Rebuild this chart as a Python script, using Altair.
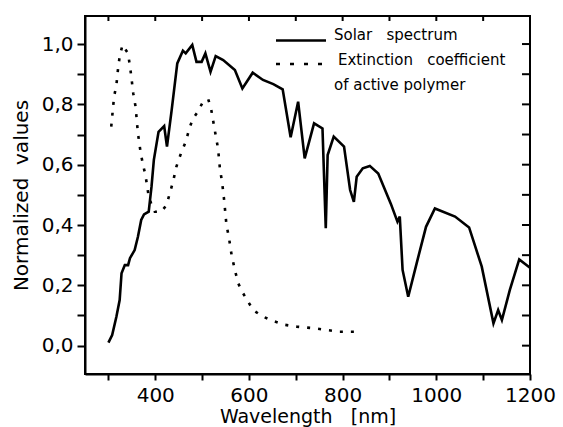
import altair as alt
import pandas as pd

# ---- data ----
solar_nm = [300, 308, 317, 324, 328, 335, 342, 346, 356, 363, 370, 376, 386, 392, 397,
            407, 419, 425, 435, 447, 459, 465, 479, 488, 499, 507, 518, 529, 545, 570,
            586, 608, 630, 652, 672, 689, 705, 719, 739, 757, 764, 768, 781, 803, 816,
            824, 830, 843, 858, 876, 903, 917, 922, 928, 940, 958, 978, 997, 1040, 1070,
            1097, 1122, 1132, 1140, 1157, 1177, 1200]
solar_val = [0.010, 0.035, 0.096, 0.151, 0.240, 0.267, 0.267, 0.290, 0.317, 0.361, 0.417,
             0.435, 0.444, 0.527, 0.616, 0.709, 0.728, 0.660, 0.781, 0.936, 0.978, 0.969,
             0.997, 0.941, 0.941, 0.969, 0.908, 0.960, 0.947, 0.914, 0.853, 0.905, 0.881,
             0.867, 0.850, 0.691, 0.809, 0.621, 0.737, 0.720, 0.389, 0.632, 0.693, 0.660,
             0.516, 0.477, 0.560, 0.588, 0.596, 0.571, 0.470, 0.411, 0.428, 0.251, 0.162,
             0.273, 0.394, 0.455, 0.428, 0.392, 0.262, 0.074, 0.118, 0.085, 0.185, 0.286,
             0.258]

ext_nm = [306, 312, 317, 321, 324, 330, 342, 348, 353, 358, 363, 369, 374, 379, 385,
          392, 399, 413, 424, 431, 438, 445, 455, 465, 474, 481, 491, 502, 513, 519,
          527, 534, 538, 543, 547, 552, 557, 563, 570, 577, 587, 595, 609, 630, 655,
          677, 702, 737, 766, 794, 826]
ext_val = [0.726, 0.825, 0.864, 0.925, 0.958, 0.997, 0.969, 0.903, 0.837, 0.792, 0.704,
           0.638, 0.599, 0.566, 0.505, 0.466, 0.444, 0.444, 0.466, 0.505, 0.544, 0.593,
           0.638, 0.676, 0.726, 0.754, 0.776, 0.809, 0.817, 0.787, 0.715, 0.654, 0.588,
           0.538, 0.483, 0.400, 0.361, 0.300, 0.251, 0.207, 0.175, 0.154, 0.118, 0.096,
           0.080, 0.069, 0.063, 0.058, 0.052, 0.046, 0.046]

x_ticks = [300, 400, 500, 600, 700, 800, 900, 1000, 1100, 1200]
y_ticks = [0.0, 0.1, 0.2, 0.3, 0.4, 0.5, 0.6, 0.7, 0.8, 0.9, 1.0]

legend_labels = ["Solar\u00a0\u00a0\u00a0spectrum",
                 "Extinction\u00a0\u00a0\u00a0coefficient",
                 "of\u00a0active\u00a0polymer"]
x_title = "Wavelength\u00a0\u00a0\u00a0[nm]"
y_title = "Normalized\u00a0\u00a0values"

# ---- layout ----
W, H = 445, 358
FONT = "DejaVu Sans"
DASH = [3, 8]

xscale = alt.Scale(domain=[250, 1200], nice=False, zero=False)
yscale = alt.Scale(domain=[-0.094, 1.093], nice=False, zero=False)

x_axis = alt.Axis(values=x_ticks, grid=False,
                  labelExpr="datum.value % 200 == 0 ? datum.value : ''",
                  labelFont=FONT, labelFontSize=20, labelColor="black",
                  labelPadding=5, labelOverlap=False, labelFlush=False,
                  tickSize=6, tickWidth=2, tickColor="black",
                  domainWidth=2, domainColor="black",
                  title=x_title, titleFont=FONT, titleFontSize=19,
                  titleFontWeight="normal", titleColor="black", titlePadding=2)
y_axis = alt.Axis(values=y_ticks, grid=False,
                  labelExpr="round(datum.value*10) % 2 == 0 ? replace(format(datum.value, '.1f'), '.', ',') : ''",
                  labelFont=FONT, labelFontSize=20, labelColor="black",
                  labelPadding=4, labelOverlap=False, labelFlush=False,
                  tickSize=8, tickWidth=2, tickColor="black",
                  domainWidth=2, domainColor="black",
                  title=y_title, titleFont=FONT, titleFontSize=20,
                  titleFontWeight="normal", titleColor="black", titlePadding=10)

X = alt.X("nm:Q", scale=xscale, axis=x_axis)
Y = alt.Y("v:Q", scale=yscale, axis=y_axis)

solar_df = pd.DataFrame({"nm": solar_nm, "v": solar_val})
ext_df = pd.DataFrame({"nm": ext_nm, "v": ext_val})

solar = alt.Chart(solar_df).mark_line(color="black", strokeWidth=2.6).encode(x=X, y=Y)
ext = alt.Chart(ext_df).mark_line(color="black", strokeWidth=2.6,
                                  strokeDash=DASH).encode(x=X, y=Y)

top_ticks = alt.Chart(pd.DataFrame({"nm": x_ticks})).mark_rule(
    color="black", strokeWidth=2).encode(x=X, y=alt.value(0), y2=alt.value(5))
right_ticks = alt.Chart(pd.DataFrame({"v": y_ticks})).mark_rule(
    color="black", strokeWidth=2).encode(y=Y, x=alt.value(W - 8), x2=alt.value(W))

one = pd.DataFrame({"k": [0]})
leg_solid = alt.Chart(one).mark_rule(color="black", strokeWidth=2.6).encode(
    x=alt.value(191), x2=alt.value(241), y=alt.value(24.5))
leg_dot = alt.Chart(one).mark_rule(color="black", strokeWidth=2.6, strokeDash=[4, 10]).encode(
    x=alt.value(191), x2=alt.value(238), y=alt.value(48))


def leg_text(label, x, y):
    return alt.Chart(one).mark_text(text=label, font=FONT, fontSize=15, color="black",
                                    align="left", baseline="middle").encode(
        x=alt.value(x), y=alt.value(y))


chart = alt.layer(
    solar, ext, top_ticks, right_ticks, leg_solid, leg_dot,
    leg_text(legend_labels[0], 249, 19),
    leg_text(legend_labels[1], 253, 44),
    leg_text(legend_labels[2], 249, 69),
).properties(
    width=W, height=H,
    padding={"left": 85, "top": 16, "right": 33, "bottom": 53},
    autosize="none",
    background="white",
).configure_view(stroke="black", strokeWidth=2)

chart.save("out.html", embed_options={"renderer": "svg", "actions": False})
